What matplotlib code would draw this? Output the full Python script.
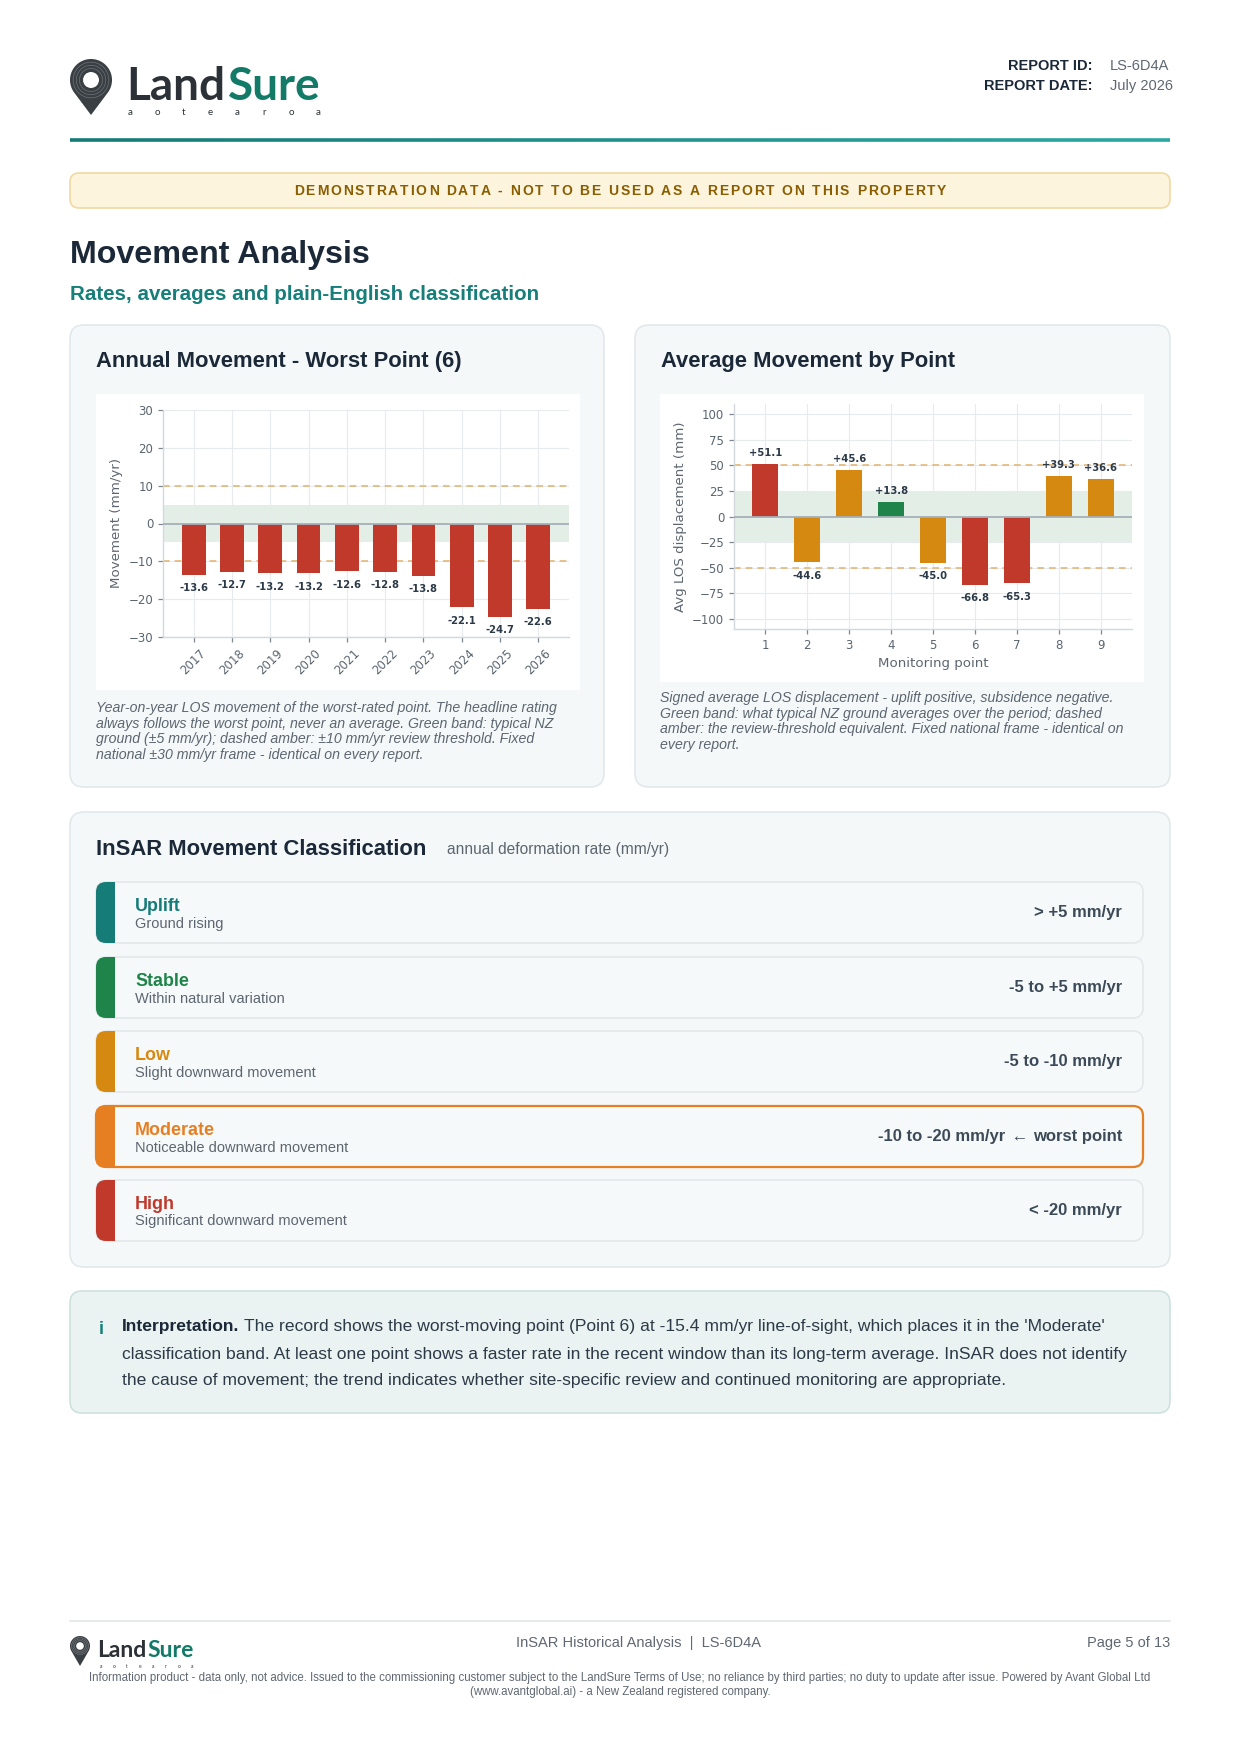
import numpy as np
import matplotlib
matplotlib.use('Agg')
import matplotlib.pyplot as plt
from matplotlib.patches import FancyBboxPatch, Rectangle, Polygon, Circle
from matplotlib.font_manager import FontProperties

W, H = 1240, 1755
SANS = ['Liberation Sans', 'DejaVu Sans']
LOGO = ['Lato', 'DejaVu Sans']

# --- data ---
years = ['2017', '2018', '2019', '2020', '2021', '2022', '2023', '2024', '2025', '2026']
annual_rate = [-13.6, -12.7, -13.2, -13.2, -12.6, -12.8, -13.8, -22.1, -24.7, -22.6]

points = [1, 2, 3, 4, 5, 6, 7, 8, 9]
avg_disp = [51.1, -44.6, 45.6, 13.8, -45.0, -66.8, -65.3, 39.3, 36.6]

class_names = ['Uplift', 'Stable', 'Low', 'Moderate', 'High']
class_desc = ['Ground rising', 'Within natural variation', 'Slight downward movement',
              'Noticeable downward movement', 'Significant downward movement']
class_range = ['> +5 mm/yr', '-5 to +5 mm/yr', '-5 to -10 mm/yr',
               '-10 to -20 mm/yr', '< -20 mm/yr']
class_colors = ['#167c78', '#1e8449', '#d68910', '#e67e22', '#c0392b']
worst_class = 'Moderate'

caption_left = [
    'Year-on-year LOS movement of the worst-rated point. The headline rating',
    'always follows the worst point, never an average. Green band: typical NZ',
    'ground (\u00b15 mm/yr); dashed amber: \u00b110 mm/yr review threshold. Fixed',
    'national \u00b130 mm/yr frame - identical on every report.',
]
caption_right = [
    'Signed average LOS displacement - uplift positive, subsidence negative.',
    'Green band: what typical NZ ground averages over the period; dashed',
    'amber: the review-threshold equivalent. Fixed national frame - identical on',
    'every report.',
]
interp_lines = [
    "The record shows the worst-moving point (Point 6) at -15.4 mm/yr line-of-sight, which places it in the 'Moderate'",
    'classification band. At least one point shows a faster rate in the recent window than its long-term average. InSAR does not identify',
    'the cause of movement; the trend indicates whether site-specific review and continued monitoring are appropriate.',
]
disclaimer = [
    'Information product - data only, not advice. Issued to the commissioning customer subject to the LandSure Terms of Use; '
    'no reliance by third parties; no duty to update after issue. Powered by Avant Global Ltd',
    '(www.avantglobal.ai) - a New Zealand registered company.',
]

NAVY = '#1b2838'
TEAL = '#177f7a'
GREY = '#5d6670'
RED = '#c0392b'
AMBER = '#d68910'
GREEN = '#1e8449'

fig = plt.figure(figsize=(W / 100, H / 100), dpi=100)
fig.patch.set_facecolor('white')
bg = fig.add_axes([0, 0, 1, 1], zorder=0)
bg.set_xlim(0, W)
bg.set_ylim(H, 0)
bg.axis('off')
renderer = fig.canvas.get_renderer()


def text_w(s, size, weight='normal', family=SANS, style='normal'):
    fp = FontProperties(family=family, size=size, weight=weight, style=style)
    w, _, _ = renderer.get_text_width_height_descent(s, fp, ismath=False)
    return w


def txt(x, y, s, size, color=NAVY, weight='normal', ha='left', va='center',
        style='normal', family=SANS, z=5):
    return bg.text(x, y, s, fontsize=size, color=color, fontweight=weight,
                   ha=ha, va=va, fontstyle=style, family=family, zorder=z)


def box(x0, y0, x1, y1, fc, ec, r=10, lw=1.0, z=1):
    p = FancyBboxPatch((x0, y0), x1 - x0, y1 - y0,
                       boxstyle=f'round,pad=0,rounding_size={r}',
                       fc=fc, ec=ec, lw=lw, zorder=z)
    bg.add_patch(p)
    return p


def spaced(xc, y, s, size, color, weight='bold', gap=1.6):
    widths = [text_w(c, size, weight) for c in s]
    total = sum(widths) + gap * (len(s) - 1)
    x = xc - total / 2
    for c, w in zip(s, widths):
        txt(x, y, c, size, color, weight)
        x += w + gap


def pin(cx, cy, r, tip):
    d = tip - cy
    phi = np.arccos(r / d)
    t = np.linspace(phi, 2 * np.pi - phi, 80)
    xs = np.r_[cx + r * np.sin(t), cx]
    ys = np.r_[cy + r * np.cos(t), tip]
    bg.add_patch(Polygon(np.column_stack([xs, ys]), closed=True,
                         fc='#3a3f44', ec='none', zorder=3))
    for k in (0.85, 0.7, 0.55):
        bg.add_patch(Circle((cx, cy), k * r, fc='none', ec='#6d7378',
                            lw=0.5, zorder=4))
    bg.add_patch(Circle((cx, cy), 0.38 * r, fc='white', ec='none', zorder=5))


def logo(x, y, size, pin_box, sub_size, sub_dy):
    px0, py0, px1, py1 = pin_box
    r = (px1 - px0) / 2
    pin((px0 + px1) / 2, py0 + r, r, py1)
    txt(x, y, 'Land', size, '#2b3136', 'bold', va='baseline', family=LOGO)
    w1 = text_w('Land', size, 'bold', LOGO)
    txt(x + w1 + size * 0.08, y, 'Sure', size, '#137a68', 'bold',
        va='baseline', family=LOGO)
    w2 = text_w('Sure', size, 'bold', LOGO)
    total = w1 + size * 0.08 + w2
    sub = 'aotearoa'
    step = (total - 6) / (len(sub) - 1)
    for i, c in enumerate(sub):
        txt(x + 4 + i * step, y + sub_dy, c, sub_size, '#2b3136', ha='center',
            family=LOGO)


def frac(x0, y0, x1, y1):
    return [x0 / W, 1 - y1 / H, (x1 - x0) / W, (y1 - y0) / H]


def style_axes(ax):
    for s in ('top', 'right'):
        ax.spines[s].set_visible(False)
    for s in ('left', 'bottom'):
        ax.spines[s].set_color('#d3d8dd')
        ax.spines[s].set_linewidth(1.0)
    ax.tick_params(colors='#7f8891', labelcolor='#5a6570', labelsize=8.5,
                   length=3.5, width=0.9)
    ax.grid(True, color='#e8ebee', lw=0.8, zorder=0)
    ax.set_axisbelow(True)
    ax.set_facecolor('white')


# --- header ---
logo(126, 100, 33, (70, 59, 112, 115), 7, 12)
lab_fs = 10.5
txt(1093, 66, 'REPORT ID:', lab_fs, NAVY, 'bold', ha='right')
txt(1110, 66, 'LS-6D4A', lab_fs, '#5f6872')
txt(1093, 86, 'REPORT DATE:', lab_fs, NAVY, 'bold', ha='right')
txt(1110, 86, 'July 2026', lab_fs, '#5f6872')

xs_line = np.linspace(70, 1170, 200)
for a, b, f in zip(xs_line[:-1], xs_line[1:], np.linspace(0, 1, 199)):
    c = np.array([0x14, 0x7a, 0x76]) * (1 - f) + np.array([0x2a, 0xa8, 0xa2]) * f
    bg.plot([a, b], [140, 140], color=c / 255, lw=2.6, solid_capstyle='butt', zorder=2)

box(70, 173, 1170, 208, '#fdf4de', '#f0d9a2', r=9, lw=1.2)
spaced(620, 190.5, 'DEMONSTRATION DATA - NOT TO BE USED AS A REPORT ON THIS PROPERTY',
       10, '#8a5e00', gap=1.9)

txt(70, 255, 'Movement Analysis', 23.2, NAVY, 'bold')
txt(70, 294, 'Rates, averages and plain-English classification', 14.8, TEAL, 'bold')

# --- chart cards ---
for x0, x1, title in ((70, 604, 'Annual Movement - Worst Point (6)'),
                      (635, 1170, 'Average Movement by Point')):
    box(x0, 325, x1, 787, '#f4f8f9', '#e2e8ec', r=14, lw=1.2)
    txt(x0 + 26, 361, title, 15.8, NAVY, 'bold')

bg.add_patch(Rectangle((96, 394), 484, 296, fc='white', ec='none', zorder=2))
bg.add_patch(Rectangle((660, 394), 484, 288, fc='white', ec='none', zorder=2))

for i, line in enumerate(caption_left):
    txt(96, 708 + i * 15.6, line, 10.2, GREY, style='italic')
for i, line in enumerate(caption_right):
    txt(660, 698 + i * 15.6, line, 10.2, GREY, style='italic')

# left chart: annual rate of the worst point
ax1 = fig.add_axes(frac(163, 410, 569, 637), zorder=3)
style_axes(ax1)
xi = np.arange(len(years))
ax1.axhspan(-5, 5, color='#e3eee7', lw=0, zorder=1)
for yv in (10, -10):
    ax1.axhline(yv, color='#e2b878', lw=1.2, ls=(0, (4, 3)), zorder=2)
ax1.bar(xi, annual_rate, width=0.62, color=RED, zorder=3)
ax1.axhline(0, color='#a5afb9', lw=1.3, zorder=4)
for xv, v in zip(xi, annual_rate):
    ax1.annotate(f'{v:.1f}', (xv, v), xytext=(0, -9.7), textcoords='offset points',
                 ha='center', va='center', fontsize=7.2, fontweight='bold',
                 color='#2c3a48', zorder=5)
ax1.set_xlim(-0.8, 9.8)
ax1.set_ylim(-30, 30)
ax1.set_yticks(range(-30, 31, 10))
ax1.set_xticks(xi)
ax1.set_xticklabels(years, rotation=45)
ax1.set_ylabel('Movement (mm/yr)', fontsize=9.6, color='#5d6670', labelpad=4)

# right chart: average displacement per point
ax2 = fig.add_axes(frac(734, 404, 1132, 629), zorder=3)
style_axes(ax2)
bar_cols = [RED if abs(v) > 50 else AMBER if abs(v) > 25 else GREEN for v in avg_disp]
ax2.axhspan(-25, 25, color='#e3eee7', lw=0, zorder=1)
for yv in (50, -50):
    ax2.axhline(yv, color='#e2b878', lw=1.2, ls=(0, (4, 3)), zorder=2)
ax2.bar(points, avg_disp, width=0.62, color=bar_cols, zorder=3)
ax2.axhline(0, color='#a5afb9', lw=1.3, zorder=4)
for xv, v in zip(points, avg_disp):
    off = 8 if v > 0 else -9.7
    ax2.annotate(f'{v:+.1f}', (xv, v), xytext=(0, off), textcoords='offset points',
                 ha='center', va='center', fontsize=7.2, fontweight='bold',
                 color='#2c3a48', zorder=5)
ax2.set_xlim(0.25, 9.75)
ax2.set_ylim(-110, 110)
ax2.set_yticks(range(-100, 101, 25))
ax2.set_xticks(points)
ax2.set_xlabel('Monitoring point', fontsize=9.6, color='#5d6670', labelpad=4)
ax2.set_ylabel('Avg LOS displacement (mm)', fontsize=9.6, color='#5d6670', labelpad=4)

# --- classification card ---
box(70, 812, 1170, 1267, '#f4f8f9', '#e2e8ec', r=14, lw=1.2)
txt(96, 849, 'InSAR Movement Classification', 15.8, NAVY, 'bold')
txt(447, 849, 'annual deformation rate (mm/yr)', 11.2, GREY)

row_top = [882, 957, 1031, 1106, 1180]
row_h = 61
val_fs = 12
for top, name, desc, rng, col in zip(row_top, class_names, class_desc,
                                     class_range, class_colors):
    worst = name == worst_class
    ec = col if worst else '#e3e8eb'
    rp = box(96, top, 1143, top + row_h, '#f6f9fa', ec, r=10,
             lw=1.6 if worst else 1.2, z=2)
    bar = Rectangle((95, top - 2), 20, row_h + 4, fc=col, ec='none', zorder=3)
    bg.add_patch(bar)
    bar.set_clip_path(rp)
    cy = top + row_h / 2
    txt(135, cy - 6, name, 12.9, col, 'bold')
    txt(135, cy + 11, desc, 10.5, GREY)
    if worst:
        w3 = text_w('worst point', val_fs, 'bold')
        txt(1122, cy, 'worst point', val_fs, '#3c4a57', 'bold', ha='right')
        warr = text_w(' \u2190 ', val_fs)
        txt(1122 - w3, cy, ' \u2190 ', val_fs, '#3c4a57', ha='right')
        txt(1122 - w3 - warr - 2, cy, rng, val_fs, '#3c4a57', 'bold', ha='right')
    else:
        txt(1122, cy, rng, val_fs, '#3c4a57', 'bold', ha='right')

# --- interpretation box ---
box(70, 1291, 1170, 1413, '#eaf3f1', '#cde2dd', r=12, lw=1.2)
txt(101, 1329, 'i', 13, TEAL, 'bold', ha='center')
int_fs = 12.6
txt(122, 1327, 'Interpretation.', int_fs, NAVY, 'bold')
wb = text_w('Interpretation. ', int_fs, 'bold')
for i, line in enumerate(interp_lines):
    txt(122 + (wb if i == 0 else 0), 1327 + i * 27, line, int_fs, '#2c3a48')

# --- footer ---
bg.plot([70, 1170], [1621, 1621], color='#e3e6e9', lw=1.2, zorder=2)
logo(97, 1657, 16.5, (70, 1636, 90, 1666), 3.5, 9)
txt(639, 1643, 'InSAR Historical Analysis  |  LS-6D4A', 10.5, '#5f6872', ha='center')
txt(1170, 1643, 'Page 5 of 13', 10.5, '#5f6872', ha='right')
for i, line in enumerate(disclaimer):
    txt(620, 1678 + i * 14, line, 8.3, '#5f6872', ha='center')

fig.savefig('out.png', dpi=100, facecolor='white')
